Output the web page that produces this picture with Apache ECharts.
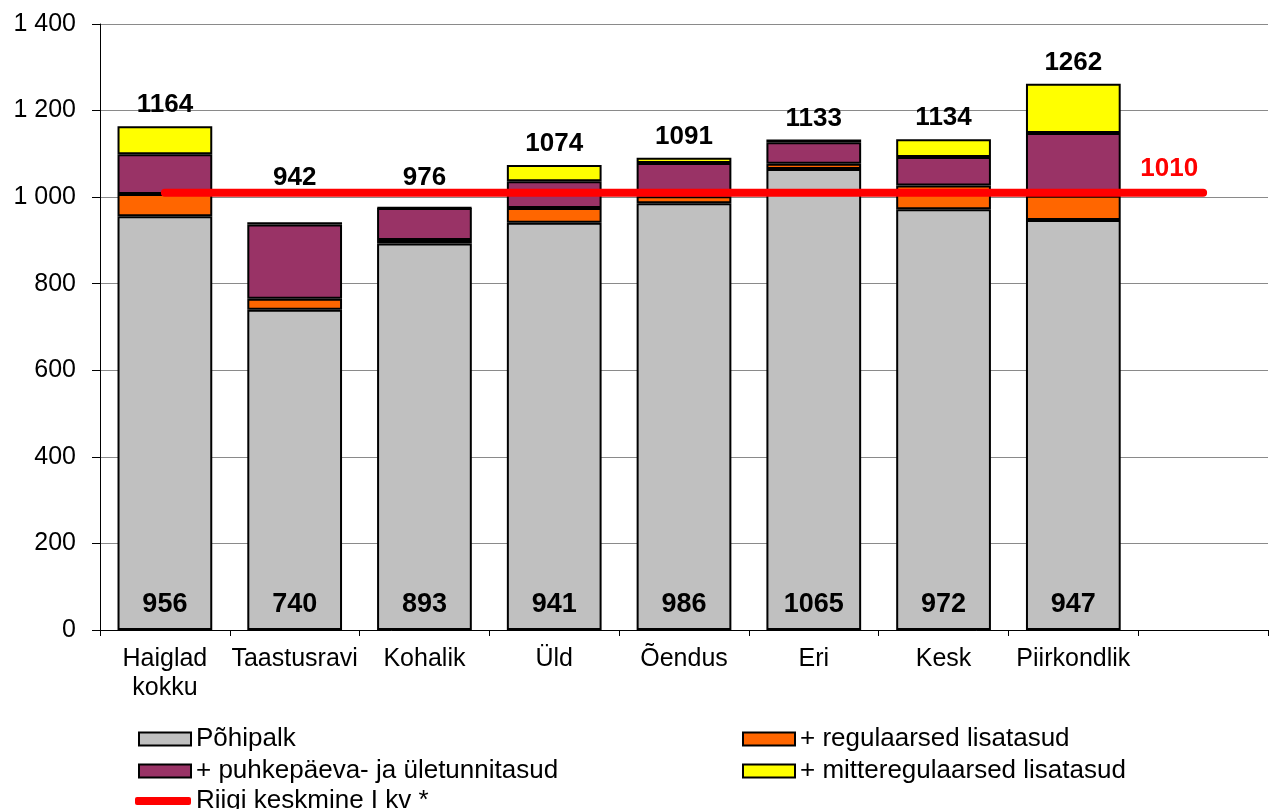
<!DOCTYPE html>
<html>
<head>
<meta charset="utf-8">
<script src="https://cdn.jsdelivr.net/npm/echarts@6/dist/echarts.min.js"></script>
<style>html,body{margin:0;padding:0;background:#fff}#c{width:1270px;height:809px}</style>
</head>
<body>
<div id="c"></div>
<script>
const categories = ['Haiglad\nkokku', 'Taastusravi', 'Kohalik', 'Üld', 'Õendus', 'Eri', 'Kesk', 'Piirkondlik', ''];
const pohipalk = [956, 740, 893, 941, 986, 1065, 972, 947];
const regulaarsed = [51, 25, 8, 34, 16, 12, 55, 56];
const puhkepaeva = [92, 172, 74, 62, 77, 50, 66, 145];
const mitteregulaarsed = [65, 5, 1, 37, 12, 6, 41, 114];
const totals = [1164, 942, 976, 1074, 1091, 1133, 1134, 1262];
const riigiKeskmine = [1010, 1010, 1010, 1010, 1010, 1010, 1010, 1010, 1010];
const yTicks = [0, 200, 400, 600, 800, 1000, 1200, 1400];

const FONT = '"Liberation Sans", Arial, sans-serif';
const names = ['Põhipalk', '+ regulaarsed lisatasud', '+ puhkepäeva- ja ületunnitasud', '+ mitteregulaarsed lisatasud', 'Riigi keskmine I kv *'];
const colors = ['#C0C0C0', '#FF6600', '#993366', '#FFFF00'];

const GRID = { left: 100, right: 2, top: 24, bottom: 179 };
const H = 809;
const yMax = yTicks[yTicks.length - 1];
const avgPixelY = GRID.top + (1 - riigiKeskmine[0] / yMax) * (H - GRID.top - GRID.bottom);

const chart = echarts.init(document.getElementById('c'));
const barBase = (name, data, color) => ({
  name, type: 'bar', stack: 'a', data, barCategoryGap: '27%',
  itemStyle: { color, borderColor: '#000', borderWidth: 2 },
  emphasis: { disabled: true }
});
const legendCommon = {
  itemWidth: 52, itemHeight: 13, icon: 'rect', orient: 'horizontal',
  textStyle: { fontFamily: FONT, fontSize: 26, color: '#000' },
  selectedMode: false
};
chart.setOption({
  animation: false,
  backgroundColor: '#fff',
  grid: GRID,
  xAxis: {
    type: 'category', data: categories,
    axisLine: { lineStyle: { color: '#000', width: 1 } },
    axisTick: { show: true, length: 6, lineStyle: { color: '#000' } },
    axisLabel: { fontFamily: FONT, fontSize: 25, color: '#000', margin: 15, lineHeight: 29, interval: 0 }
  },
  yAxis: {
    type: 'value', min: yTicks[0], max: yMax, interval: 200,
    axisLine: { show: true, lineStyle: { color: '#000', width: 1 } },
    axisTick: { show: true, length: 8, lineStyle: { color: '#000' } },
    splitLine: { lineStyle: { color: '#8a8a8a', width: 1 } },
    axisLabel: {
      fontFamily: FONT, fontSize: 25, color: '#000', margin: 24,
      formatter: v => String(v).replace(/\B(?=(\d{3})+(?!\d))/g, ' ')
    }
  },
  legend: [
    Object.assign({ left: 133, top: 721, data: [names[0]] }, legendCommon),
    Object.assign({ left: 737, top: 721, data: [names[1]] }, legendCommon),
    Object.assign({ left: 133, top: 753, data: [names[2]] }, legendCommon),
    Object.assign({ left: 737, top: 753, data: [names[3]] }, legendCommon),
    Object.assign({}, legendCommon, { left: 130, top: 783, itemWidth: 56, itemHeight: 8, icon: 'roundRect', data: [names[4]] })
  ],
  series: [
    Object.assign(barBase(names[0], pohipalk, colors[0]), {
      label: { show: true, position: 'insideBottom', distance: 12, fontFamily: FONT, fontSize: 27, fontWeight: 'bold', color: '#000' }
    }),
    barBase(names[1], regulaarsed, colors[1]),
    barBase(names[2], puhkepaeva, colors[2]),
    Object.assign(barBase(names[3], mitteregulaarsed, colors[3]), {
      label: { show: true, position: 'top', distance: 8, fontFamily: FONT, fontSize: 26, fontWeight: 'bold', color: '#000',
        formatter: p => totals[p.dataIndex] },
      labelLayout: p => {
        const r = p.labelRect;
        if (r && r.y + r.height > avgPixelY - 6 && r.y < avgPixelY + 6) {
          return { dy: (avgPixelY - 2 - r.height) - r.y };
        }
        return {};
      }
    }),
    {
      name: names[4], type: 'line', data: riigiKeskmine, z: 5,
      showSymbol: false, symbol: 'none', color: '#FF0000',
      lineStyle: { color: '#FF0000', width: 8, cap: 'round' },
      emphasis: { disabled: true },
      endLabel: { show: true, formatter: p => p.value, distance: 0, align: 'right', verticalAlign: 'bottom', offset: [-5, -11],
        fontFamily: FONT, fontSize: 26, fontWeight: 'bold', color: '#FF0000' }
    }
  ]
});
</script>
</body>
</html>
